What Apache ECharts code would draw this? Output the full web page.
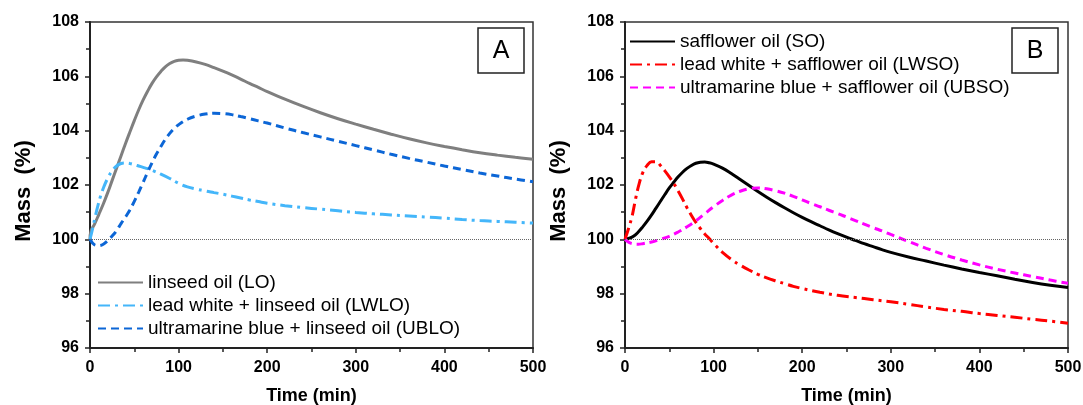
<!DOCTYPE html>
<html>
<head>
<meta charset="utf-8">
<script src="https://cdn.jsdelivr.net/npm/echarts@6/dist/echarts.min.js"></script>
<style>html,body{margin:0;padding:0;background:#fff;}#c{width:1083px;height:405px;}</style>
</head>
<body>
<div id="c"></div>
<script>
// ---- Data (time in min, mass in %) ----
const xTicks = [0, 100, 200, 300, 400, 500];
const yTicks = [96, 98, 100, 102, 104, 106, 108];

const loTime = [0,1,5,10,15,20,25,30,35,40,45,50,55,60,65,70,75,80,85,90,95,100,105,110,120,130,140,150,160,170,180,190,200,220,240,260,280,300,320,340,360,380,400,420,440,460,480,500];
const loMass = [100.0,100.3,100.55,100.92,101.3,101.72,102.17,102.62,103.07,103.52,103.95,104.37,104.77,105.13,105.45,105.74,105.98,106.18,106.35,106.47,106.55,106.59,106.6,106.59,106.53,106.44,106.32,106.19,106.05,105.9,105.74,105.59,105.44,105.16,104.9,104.66,104.44,104.24,104.05,103.87,103.7,103.55,103.42,103.3,103.19,103.1,103.02,102.95];

const lwloTime = [0,3,6,9,12,15,20,25,30,35,40,45,50,55,60,65,70,80,90,100,110,120,130,140,150,160,170,180,190,200,220,240,260,280,300,320,340,360,380,400,420,440,460,480,500];
const lwloMass = [100.0,100.4,100.85,101.25,101.6,101.88,102.25,102.52,102.7,102.79,102.81,102.79,102.75,102.7,102.65,102.6,102.54,102.4,102.24,102.06,101.93,101.85,101.78,101.72,101.66,101.59,101.52,101.45,101.39,101.33,101.24,101.17,101.11,101.05,100.99,100.94,100.9,100.86,100.82,100.78,100.73,100.69,100.66,100.63,100.6];

const ubloTime = [0,5,10,15,20,25,30,35,40,45,50,55,60,65,70,75,80,85,90,95,100,110,120,130,140,150,160,170,180,190,200,220,240,260,280,300,320,340,360,380,400,420,440,460,480,500];
const ubloMass = [100.0,99.8,99.77,99.82,99.95,100.12,100.32,100.58,100.82,101.08,101.4,101.74,102.1,102.47,102.82,103.14,103.42,103.68,103.9,104.08,104.22,104.42,104.54,104.61,104.64,104.63,104.59,104.52,104.44,104.36,104.28,104.1,103.93,103.77,103.61,103.45,103.29,103.13,102.98,102.84,102.7,102.57,102.44,102.33,102.22,102.12];

const soTime = [0,5,10,15,20,25,30,35,40,45,50,55,60,65,70,75,80,85,90,95,100,110,120,130,140,150,160,170,180,190,200,210,220,230,240,250,260,270,280,290,300,320,340,360,380,400,420,440,460,480,500];
const soMass = [100.0,100.04,100.12,100.27,100.46,100.67,100.9,101.15,101.4,101.65,101.89,102.1,102.3,102.47,102.61,102.72,102.8,102.84,102.85,102.82,102.77,102.62,102.42,102.2,101.98,101.76,101.55,101.35,101.16,100.98,100.81,100.65,100.5,100.35,100.21,100.08,99.96,99.84,99.73,99.62,99.52,99.35,99.2,99.05,98.91,98.78,98.66,98.53,98.41,98.31,98.23];

const lwsoTime = [0,4,8,12,16,20,25,30,35,40,45,50,55,60,65,70,75,80,85,90,95,100,105,110,120,130,140,150,160,170,180,190,200,220,240,260,280,300,320,340,360,380,400,420,440,460,480,500];
const lwsoMass = [100.0,100.4,100.85,101.5,102.05,102.45,102.72,102.86,102.86,102.72,102.52,102.3,102.06,101.78,101.48,101.16,100.88,100.62,100.4,100.2,100.03,99.85,99.68,99.52,99.26,99.05,98.87,98.71,98.58,98.47,98.37,98.27,98.19,98.05,97.94,97.86,97.78,97.7,97.61,97.51,97.42,97.35,97.27,97.2,97.13,97.06,96.99,96.91];

const ubsoTime = [0,5,10,15,20,30,40,50,60,70,80,90,100,110,120,130,140,150,160,170,180,190,200,210,220,230,240,250,260,270,280,290,300,320,340,360,380,400,420,440,460,480,500];
const ubsoMass = [100.0,99.88,99.83,99.82,99.84,99.9,100.0,100.11,100.27,100.46,100.68,100.94,101.2,101.43,101.63,101.77,101.86,101.89,101.86,101.79,101.7,101.58,101.45,101.32,101.2,101.07,100.95,100.82,100.69,100.56,100.43,100.31,100.18,99.92,99.67,99.44,99.24,99.06,98.9,98.76,98.63,98.5,98.38];

const namesA = ['linseed oil (LO)', 'lead white + linseed oil (LWLO)', 'ultramarine blue + linseed oil (UBLO)'];
const namesB = ['safflower oil (SO)', 'lead white + safflower oil (LWSO)', 'ultramarine blue + safflower oil (UBSO)'];
const refLevel = 100;

// ---- Build chart ----
const FONT = '"Liberation Sans", Arial, sans-serif';
const zip = (t, v) => t.map((x, i) => [x, v[i]]);

function xAx(gi) {
  return {
    gridIndex: gi, type: 'value', min: xTicks[0], max: xTicks[xTicks.length - 1], interval: 100,
    name: 'Time (min)', nameLocation: 'middle', nameGap: 39,
    nameTextStyle: { fontFamily: FONT, fontWeight: 'bold', fontSize: 18, color: '#000' },
    axisLine: { show: true, lineStyle: { color: '#222', width: 2 } },
    axisTick: { show: true, inside: false, length: 5, lineStyle: { color: '#222', width: 1.5 } },
    minorTick: { show: true, splitNumber: 2, length: 4, lineStyle: { color: '#222', width: 1.5 } },
    axisLabel: { fontFamily: FONT, fontWeight: 'bold', fontSize: 16, color: '#000', margin: 12 },
    splitLine: { show: false }
  };
}
function yAx(gi) {
  return {
    gridIndex: gi, type: 'value', min: yTicks[0], max: yTicks[yTicks.length - 1], interval: 2,
    name: 'Mass  (%)', nameLocation: 'middle', nameGap: 55,
    nameTextStyle: { fontFamily: FONT, fontWeight: 'bold', fontSize: 22, color: '#000', padding: [0, 12, 0, 0] },
    axisLine: { show: true, lineStyle: { color: '#222', width: 2 } },
    axisTick: { show: true, inside: false, length: 5, lineStyle: { color: '#222', width: 1.5 } },
    minorTick: { show: true, splitNumber: 2, length: 4, lineStyle: { color: '#222', width: 1.5 } },
    axisLabel: { fontFamily: FONT, fontWeight: 'bold', fontSize: 16, color: '#000', margin: 11 },
    splitLine: { show: false }
  };
}
const refLine = {
  silent: true, symbol: 'none', label: { show: false },
  lineStyle: { type: 'dotted', color: '#666', width: 1 },
  data: [{ yAxis: refLevel }]
};
function ser(name, gi, t, v, color, type, width, withRef) {
  const s = {
    name, type: 'line', xAxisIndex: gi, yAxisIndex: gi, data: zip(t, v),
    showSymbol: false, symbol: 'none', smooth: 0.4,
    lineStyle: { color, type, width, cap: 'butt' }, itemStyle: { color },
    emphasis: { disabled: true }, z: 3
  };
  if (withRef) s.markLine = refLine;
  return s;
}
const dashDot = [12, 5, 3, 5];
const dashed = [8, 5];

const legendBase = {
  orient: 'vertical', itemWidth: 45, itemHeight: 12, itemGap: 4,
  itemStyle: { opacity: 0 },
  textStyle: { fontFamily: FONT, fontSize: 19, color: '#000', lineHeight: 19 }, selectedMode: false
};

const gridBase = { width: 443, height: 326, top: 22, show: true, borderColor: '#333', borderWidth: 1.5,
  backgroundColor: 'transparent', containLabel: false, outerBoundsMode: 'none' };

const chart = echarts.init(document.getElementById('c'), null, { renderer: 'canvas' });
chart.setOption({
  animation: false,
  backgroundColor: '#fff',
  grid: [
    Object.assign({}, gridBase, { left: 90 }),
    Object.assign({}, gridBase, { left: 625 })
  ],
  xAxis: [xAx(0), xAx(1)],
  yAxis: [yAx(0), yAx(1)],
  legend: [
    Object.assign({}, legendBase, { data: namesA, left: 92, top: 268 }),
    Object.assign({}, legendBase, { data: namesB, left: 624, top: 27 })
  ],
  graphic: [
    { type: 'rect', shape: { x: 478, y: 28, width: 46, height: 45 }, style: { fill: '#fff', stroke: '#222', lineWidth: 1.5 }, z: 10 },
    { type: 'text', x: 501, y: 51, style: { text: 'A', fontFamily: FONT, fontSize: 25, fill: '#000', align: 'center', verticalAlign: 'middle' }, z: 11 },
    { type: 'rect', shape: { x: 1012, y: 28, width: 46, height: 45 }, style: { fill: '#fff', stroke: '#222', lineWidth: 1.5 }, z: 10 },
    { type: 'text', x: 1035, y: 51, style: { text: 'B', fontFamily: FONT, fontSize: 25, fill: '#000', align: 'center', verticalAlign: 'middle' }, z: 11 }
  ],
  series: [
    ser(namesA[0], 0, loTime, loMass, '#7f7f7f', 'solid', 3, true),
    ser(namesA[1], 0, lwloTime, lwloMass, '#44b6fa', dashDot, 3, false),
    ser(namesA[2], 0, ubloTime, ubloMass, '#0c66d6', dashed, 3, false),
    ser(namesB[0], 1, soTime, soMass, '#000000', 'solid', 3, true),
    ser(namesB[1], 1, lwsoTime, lwsoMass, '#ff0000', dashDot, 3, false),
    ser(namesB[2], 1, ubsoTime, ubsoMass, '#ff00ff', dashed, 3, false)
  ]
});
</script>
</body>
</html>
